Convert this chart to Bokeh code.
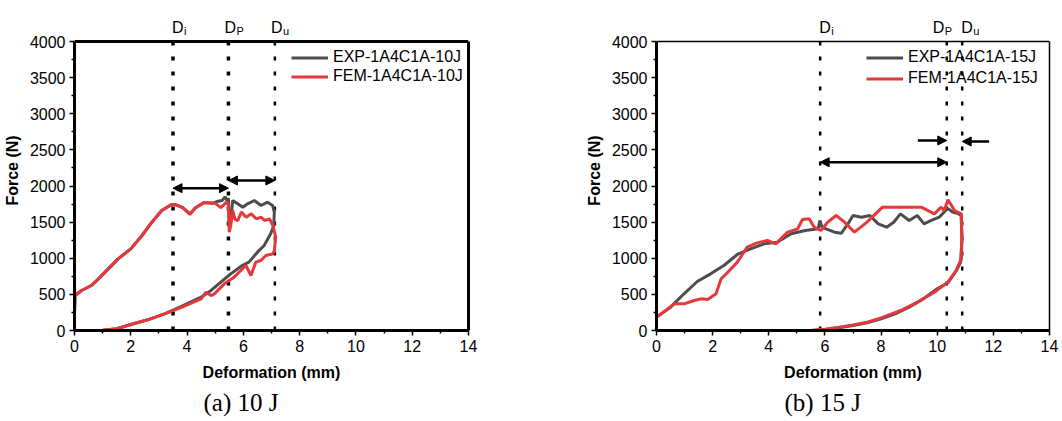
from bokeh.plotting import figure
from bokeh.layouts import row
from bokeh.models import (Range1d, FixedTicker, Span, Label, Arrow, NormalHead,
                          Legend, LegendItem, LinearAxis, Title)
from bokeh.embed import file_html
from bokeh.resources import INLINE

# ---------------- data ----------------
exp10_x = [0, 0.02, 0.25, 0.6, 0.85, 1.2, 1.55, 2.0, 2.4, 2.75, 3.1, 3.45, 3.6, 3.85, 4.1, 4.3, 4.6, 4.9, 5.1, 5.25,
           5.35, 5.42, 5.47, 5.5, 5.55, 5.62, 5.8, 5.98, 6.15, 6.39, 6.63, 6.86, 7.04, 7.1, 7.08, 6.97, 6.74, 6.5, 6.2, 5.96,
           5.55, 5.2, 4.85, 4.5, 3.78, 3.2, 2.6, 2.0, 1.5, 1.0, 0.5, 0]
exp10_y = [250, 484, 554, 623, 715, 853, 992, 1130, 1315, 1499, 1661, 1744, 1740, 1700, 1615, 1700, 1770, 1760, 1790, 1800,
           1850, 1800, 1830, 1430, 1500, 1799, 1753, 1707, 1753, 1799, 1730, 1776, 1730, 1638, 1450, 1338, 1176, 1084, 946, 900,
           784, 669, 554, 461, 332, 231, 148, 83, 25, 3, 0, 0]

fem10_x = [0, 0.02, 0.25, 0.6, 0.85, 1.2, 1.55, 2.0, 2.4, 2.75, 3.1, 3.45, 3.6, 3.85, 4.1, 4.3, 4.6, 5.0, 5.2, 5.4,
           5.47, 5.5, 5.55, 5.62, 5.7, 5.8, 5.93, 6.1, 6.28, 6.46, 6.63, 6.75, 6.93, 7.05, 7.15, 7.1, 7.05, 6.8, 6.62, 6.44,
           6.27, 6.09, 5.91, 5.67, 5.32, 4.97, 4.85, 4.67, 4.5, 3.8, 3.2, 2.6, 2.0, 1.5, 1.0, 0.5, 0]
fem10_y = [230, 484, 554, 623, 715, 853, 992, 1130, 1315, 1499, 1661, 1744, 1740, 1700, 1605, 1700, 1770, 1760, 1700, 1776,
           1740, 1361, 1450, 1661, 1540, 1522, 1638, 1569, 1615, 1546, 1569, 1522, 1546, 1453, 1292, 1100, 1061, 1038, 969, 946,
           761, 900, 830, 738, 646, 507, 484, 530, 438, 320, 231, 148, 83, 25, 3, 0, 0]

exp15_x = [0, 0.5, 0.98, 1.45, 1.93, 2.4, 2.88, 3.35, 3.83, 4.3, 4.8, 5.3, 5.76, 5.82, 5.9, 6.04, 6.34, 6.58, 6.82,
           7.0, 7.3, 7.6, 7.9, 8.2, 8.45, 8.69, 9.0, 9.29, 9.53, 9.77, 10.07, 10.37, 10.55, 10.74, 10.85, 10.88, 10.86, 10.83,
           10.67, 10.38, 10.0, 9.5, 9.0, 8.5, 8.0, 7.5, 7.0, 6.5, 6.0, 5.5]
exp15_y = [185, 323, 508, 678, 784, 900, 1052, 1130, 1199, 1222, 1338, 1384, 1407, 1522, 1430, 1407, 1361, 1346, 1476,
           1592, 1568, 1592, 1476, 1430, 1499, 1615, 1522, 1592, 1476, 1522, 1568, 1690, 1640, 1620, 1590, 1300, 1000, 940,
           820, 660, 577, 438, 323, 231, 161, 106, 69, 37, 14, 0]

fem15_x = [0, 0.33, 0.63, 0.98, 1.34, 1.58, 1.82, 2.12, 2.3, 2.54, 2.88, 3.23, 3.59, 3.95, 4.25, 4.67, 5.03, 5.2, 5.44, 5.62,
           5.86, 6.1, 6.4, 6.7, 7.05, 7.5, 8.05, 9.43, 9.9, 10.14, 10.25, 10.38, 10.62, 10.86, 10.88, 10.83, 10.67, 10.38, 9.9, 9.3,
           8.7, 8.0, 7.5, 7.0, 6.5, 6.0, 5.5]
fem15_y = [185, 277, 369, 369, 415, 438, 430, 507, 715, 807, 946, 1153, 1213, 1246, 1199, 1361, 1407, 1536, 1546, 1430,
           1384, 1500, 1592, 1499, 1361, 1499, 1707, 1707, 1615, 1707, 1661, 1810, 1661, 1615, 1246, 969, 830, 669, 530, 392,
           277, 175, 115, 78, 46, 18, 0]

# characteristic deformations (Di, Dp, Du)
d10 = [3.5, 5.47, 7.12]
d15 = [5.83, 10.34, 10.89]
d_names = ["i", "P", "u"]

# arrows: (x_start, x_end, force, double-headed)
arrows10 = [(3.5, 5.47, 1970, True), (5.47, 7.12, 2076, True)]
arrows15 = [(5.83, 10.34, 2329, True), (9.31, 10.34, 2630, False), (11.85, 10.89, 2616, False)]

legend10 = ["EXP-1A4C1A-10J", "FEM-1A4C1A-10J"]
legend15 = ["EXP-1A4C1A-15J", "FEM-1A4C1A-15J"]
captions = ["(a) 10 J", "(b) 15 J"]

x_ticks = [0, 2, 4, 6, 8, 10, 12, 14]
y_ticks = [0, 500, 1000, 1500, 2000, 2500, 3000, 3500, 4000]
Y_MAX = 4000

GRAY = "#4d4d4d"
RED = "#e5383b"
SANS = "Liberation Sans"

FRAME_H = 320           # frame includes a strip above the 4000 line for the D labels
AXIS_H = 289            # pixel height of the 0..4000 part
Y_TOP = Y_MAX * FRAME_H / AXIS_H


def px_to_force(px_above_top):
    return Y_MAX * (AXIS_H + px_above_top) / AXIS_H


def make_panel(exp_x, exp_y, fem_x, fem_y, dvals, arrows, labels, caption,
               border_left, border_right, outline_w, dot_ws, legend_x, legend_spacing,
               dlabel_offsets, caption_offset):
    p = figure(width=531, height=421, output_backend="svg", toolbar_location=None,
               x_range=Range1d(0, 14), y_range=Range1d(0, Y_TOP),
               min_border_left=border_left, min_border_right=border_right,
               min_border_top=10, min_border_bottom=91)
    p.grid.visible = False
    p.outline_line_color = None
    p.background_fill_color = "white"

    minor_x = [v + 1 for v in x_ticks[:-1]]
    minor_y = [v + 250 for v in y_ticks[:-1]]
    p.xaxis.ticker = FixedTicker(ticks=x_ticks, minor_ticks=minor_x)
    p.yaxis.ticker = FixedTicker(ticks=y_ticks, minor_ticks=minor_y)
    p.yaxis.bounds = (0, Y_MAX)
    for ax in (p.xaxis[0], p.yaxis[0]):
        ax.axis_line_width = 3
        ax.axis_line_color = "black"
        ax.major_tick_in = 0
        ax.major_tick_out = 5
        ax.minor_tick_in = 0
        ax.minor_tick_out = 3
        ax.major_tick_line_width = 1.5
        ax.minor_tick_line_width = 1.5
        ax.major_label_text_font = SANS
        ax.major_label_text_font_size = "16px"
        ax.major_label_text_color = "black"
        ax.axis_label_text_font = SANS
        ax.axis_label_text_font_size = "16px"
        ax.axis_label_text_font_style = "bold"
        ax.axis_label_text_color = "black"
    p.xaxis.axis_label = "Deformation (mm)"
    p.yaxis.axis_label = "Force (N)"
    p.xaxis.major_label_standoff = 4
    p.xaxis.axis_label_standoff = 9
    p.yaxis.major_label_standoff = 4
    p.yaxis.axis_label_standoff = 6

    # right frame border (axis line only) and top frame border at 4000
    rax = LinearAxis(ticker=FixedTicker(ticks=[]), bounds=(0, Y_MAX), axis_line_width=outline_w,
                     axis_line_color="black", major_tick_out=0, major_tick_in=0,
                     minor_tick_out=0, minor_tick_in=0, major_label_text_font_size="0px")
    p.add_layout(rax, "right")
    p.add_layout(Span(location=Y_MAX, dimension="width", line_color="black", line_width=outline_w))

    # dotted characteristic lines
    p.segment(x0=dvals, y0=[Y_MAX] * len(dvals), x1=dvals, y1=[0] * len(dvals),
              line_color="black", line_width=dot_ws, line_dash="4 11")

    r_exp = p.line(exp_x, exp_y, line_color=GRAY, line_width=3)
    r_fem = p.line(fem_x, fem_y, line_color=RED, line_width=3)

    for (xs, xe, fy, dbl) in arrows:
        kw = dict(end=NormalHead(size=9, fill_color="black", line_color="black"),
                  x_start=xs, y_start=fy, x_end=xe, y_end=fy,
                  line_width=2.5, line_color="black")
        kw["start"] = NormalHead(size=9, fill_color="black", line_color="black") if dbl else None
        p.add_layout(Arrow(**kw))

    y_d = px_to_force(14)
    y_sub = px_to_force(11)
    for d, name, off in zip(dvals, d_names, dlabel_offsets):
        p.add_layout(Label(x=d, y=y_d, text="D", x_offset=off, text_font=SANS, text_font_size="16px",
                           text_baseline="alphabetic", text_align="left", text_color="black"))
        p.add_layout(Label(x=d, y=y_sub, text=name, x_offset=off + 12, text_font=SANS,
                           text_font_size="11px", text_baseline="alphabetic", text_align="left",
                           text_color="black"))

    p.add_layout(Title(text=caption, align="left", offset=caption_offset, text_font="Liberation Serif",
                       text_font_size="25px", text_font_style="normal", text_color="black",
                       standoff=7), "below")

    legend = Legend(items=[LegendItem(label=labels[0], renderers=[r_exp]),
                           LegendItem(label=labels[1], renderers=[r_fem])],
                    location=(legend_x, 244.5 - legend_spacing), padding=0, margin=0, spacing=legend_spacing,
                    glyph_width=37, glyph_height=19, label_height=19, label_standoff=5,
                    label_text_font=SANS, label_text_font_size="16px", label_text_color="black",
                    background_fill_alpha=0, border_line_alpha=0)
    p.add_layout(legend)
    return p


p1 = make_panel(exp10_x, exp10_y, fem10_x, fem10_y, d10, arrows10, legend10, captions[0],
                73, 63, 3, [3.5, 3.5, 2.5], 217, 0, [-1, -4, -4], 129)
p2 = make_panel(exp15_x, exp15_y, fem15_x, fem15_y, d15, arrows15, legend15, captions[1],
                125, 13, 1.5, [2.5, 2.5, 2.5], 210, 2, [-1, -14, -1], 128)

layout = row(p1, p2)
open("out.html", "w").write(file_html(layout, INLINE))
